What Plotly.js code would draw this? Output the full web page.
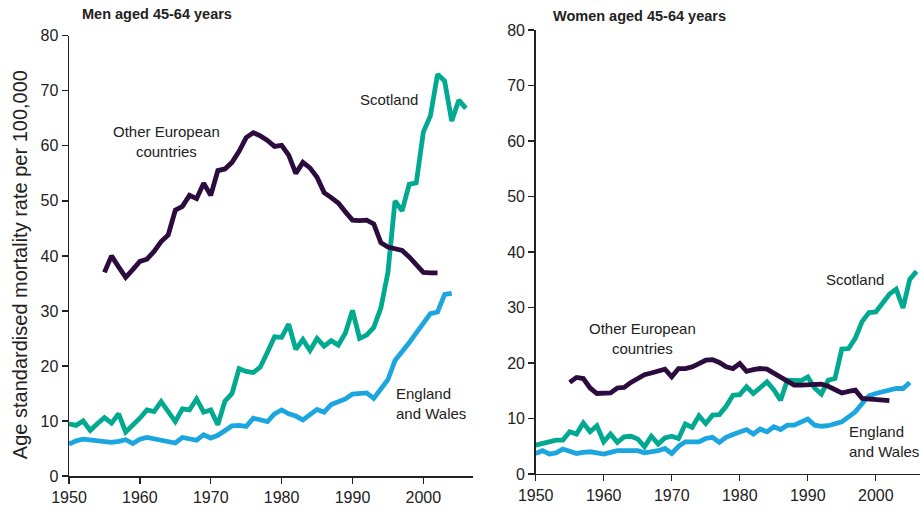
<!DOCTYPE html>
<html><head><meta charset="utf-8">
<script src="https://cdn.plot.ly/plotly-3.0.1.min.js"></script>
<style>html,body{margin:0;padding:0;background:#fff}#chart{width:920px;height:514px}</style>
</head><body><div id="chart"></div>
<script>
// ---- Men aged 45-64 ----
const menEWYears = [1950,1951,1952,1953,1954,1955,1956,1957,1958,1959,1960,1961,1962,1963,1964,1965,1966,1967,1968,1969,1970,1971,1972,1973,1974,1975,1976,1977,1978,1979,1980,1981,1982,1983,1984,1985,1986,1987,1988,1989,1990,1991,1992,1993,1994,1995,1996,1997,1998,1999,2000,2001,2002,2003,2004];
const menEW = [5.8,6.4,6.7,6.5,6.3,6.1,6.1,6.3,6.6,5.9,6.7,7.0,6.7,6.5,6.2,6.0,7.0,6.8,6.5,7.5,6.9,7.4,8.2,9.1,9.2,9.0,10.5,10.2,9.9,11.3,12.0,11.3,10.9,10.2,11.2,12.1,11.6,13.0,13.5,14.0,14.9,15.0,15.1,14.1,15.7,17.5,21.0,22.5,24.2,26.0,27.6,29.5,29.8,33.0,33.2];
const menScotYears = [1950,1951,1952,1953,1954,1955,1956,1957,1958,1959,1960,1961,1962,1963,1964,1965,1966,1967,1968,1969,1970,1971,1972,1973,1974,1975,1976,1977,1978,1979,1980,1981,1982,1983,1984,1985,1986,1987,1988,1989,1990,1991,1992,1993,1994,1995,1996,1997,1998,1999,2000,2001,2002,2003,2004,2005,2006];
const menScot = [9.5,9.2,10.0,8.3,9.5,10.6,9.6,11.3,8.0,9.2,10.5,12.0,11.7,13.5,11.5,9.9,12.2,12.0,14.0,11.6,12.0,9.3,13.6,15.0,19.5,19.0,18.8,19.8,22.5,25.3,25.2,27.6,23.0,24.8,22.8,25.0,23.6,24.6,23.8,26.0,30.1,25.0,25.6,27.0,30.5,37.0,50.0,48.2,53.0,53.3,62.5,65.5,73.0,71.8,64.5,68.3,66.8];
const menEurYears = [1955,1956,1957,1958,1959,1960,1961,1962,1963,1964,1965,1966,1967,1968,1969,1970,1971,1972,1973,1974,1975,1976,1977,1978,1979,1980,1981,1982,1983,1984,1985,1986,1987,1988,1989,1990,1991,1992,1993,1994,1995,1996,1997,1998,1999,2000,2001,2002];
const menEur = [37.0,40.0,38.0,36.1,37.5,39.0,39.4,40.8,42.6,43.8,48.3,49.0,51.0,50.4,53.2,51.0,55.5,55.8,57.0,59.0,61.5,62.4,61.8,61.0,59.9,60.1,58.3,55.0,57.0,56.0,54.3,51.5,50.6,49.6,48.0,46.5,46.4,46.5,45.8,42.4,41.6,41.4,41.0,39.8,38.3,37.0,36.9,36.9];

// ---- Women aged 45-64 ----
const womEWYears = [1950,1951,1952,1953,1954,1955,1956,1957,1958,1959,1960,1961,1962,1963,1964,1965,1966,1967,1968,1969,1970,1971,1972,1973,1974,1975,1976,1977,1978,1979,1980,1981,1982,1983,1984,1985,1986,1987,1988,1989,1990,1991,1992,1993,1994,1995,1996,1997,1998,1999,2000,2001,2002,2003,2004,2005];
const womEW = [3.7,4.2,3.6,3.8,4.5,4.0,3.7,3.9,4.0,3.8,3.6,3.9,4.2,4.2,4.2,4.2,3.8,3.9,4.2,4.6,3.7,5.0,5.8,5.8,5.8,6.4,6.6,5.7,6.6,7.1,7.6,8.0,7.2,8.1,7.6,8.5,8.0,8.8,8.8,9.3,9.9,8.8,8.6,8.7,9.0,9.4,10.3,11.2,12.7,14.1,14.5,14.8,15.3,15.4,15.4,16.5];
const womScotYears = [1950,1951,1952,1953,1954,1955,1956,1957,1958,1959,1960,1961,1962,1963,1964,1965,1966,1967,1968,1969,1970,1971,1972,1973,1974,1975,1976,1977,1978,1979,1980,1981,1982,1983,1984,1985,1986,1987,1988,1989,1990,1991,1992,1993,1994,1995,1996,1997,1998,1999,2000,2001,2002,2003,2004,2005,2006];
const womScot = [5.2,5.5,5.8,6.1,6.1,7.6,7.2,9.2,7.6,8.7,5.8,7.2,5.7,6.7,6.8,6.3,4.9,6.8,5.4,6.5,6.8,6.4,9.0,8.4,10.5,9.1,10.6,10.7,12.2,14.2,14.3,15.7,14.5,15.6,16.6,15.2,13.3,16.9,16.9,16.8,17.5,15.5,14.4,16.9,17.2,22.5,22.6,24.5,27.5,29.1,29.2,30.8,32.4,33.3,29.9,35.1,36.5];
const womEurYears = [1955,1956,1957,1958,1959,1960,1961,1962,1963,1964,1965,1966,1967,1968,1969,1970,1971,1972,1973,1974,1975,1976,1977,1978,1979,1980,1981,1982,1983,1984,1985,1986,1987,1988,1989,1990,1991,1992,1993,1994,1995,1996,1997,1998,1999,2000,2001,2002];
const womEur = [16.5,17.4,17.2,15.5,14.5,14.5,14.6,15.5,15.6,16.5,17.1,17.9,18.2,18.5,18.9,17.5,19.0,19.0,19.3,19.9,20.5,20.6,20.1,19.3,19.0,19.9,18.5,18.8,19.0,18.9,18.2,17.5,16.8,16.0,16.0,16.0,16.2,16.2,15.8,15.3,14.6,14.9,15.1,13.6,13.5,13.4,13.3,13.2];

const xTicks = [1950,1960,1970,1980,1990,2000];
const yTicks = [0,10,20,30,40,50,60,70,80];

const cPurple = '#2c0b3f', cTeal = '#00a98f', cBlue = '#1ba6e0';
const FONT = '"Liberation Sans Narrow", "Arial Narrow", "Liberation Sans", Arial, sans-serif';
const LW = 4.8;

function tr(x, y, color, xa, ya) {
  return {x: x, y: y, type: 'scatter', mode: 'lines', xaxis: xa, yaxis: ya,
    line: {color: color, width: LW, shape: 'linear'}, hoverinfo: 'skip', showlegend: false};
}
const data = [
  tr(menEWYears, menEW, cBlue, 'x', 'y'),
  tr(menScotYears, menScot, cTeal, 'x', 'y'),
  tr(menEurYears, menEur, cPurple, 'x', 'y'),
  tr(womEWYears, womEW, cBlue, 'x2', 'y2'),
  tr(womScotYears, womScot, cTeal, 'x2', 'y2'),
  tr(womEurYears, womEur, cPurple, 'x2', 'y2')
];

function xax(domain, range, anchor) {
  return {domain: domain, range: range, anchor: anchor, tickvals: xTicks, ticks: 'outside', ticklen: 6,
    tickwidth: 1.3, tickcolor: '#222', showline: true, linecolor: '#222', linewidth: 1.5,
    showgrid: false, zeroline: false, tickfont: {family: FONT, size: 16, color: '#222'}, fixedrange: true};
}
function yax(domain, anchor) {
  return {domain: domain, range: [0, 80], anchor: anchor, tickvals: yTicks, ticks: 'outside', ticklen: 6,
    tickwidth: 1.3, tickcolor: '#222', showline: true, linecolor: '#222', linewidth: 1.5,
    showgrid: false, zeroline: false, tickfont: {family: FONT, size: 16, color: '#222'}, fixedrange: true};
}
const lblFont = {family: FONT, size: 15, color: '#222'};
function lab(text, x, y, xref, yref, xanchor) {
  return {text: text, x: x, y: y, xref: xref, yref: yref, xanchor: xanchor, yanchor: 'middle',
    showarrow: false, font: lblFont, align: xanchor === 'left' ? 'left' : 'center'};
}
const layout = {
  width: 920, height: 514,
  margin: {l: 69, r: 0, t: 30, b: 38},
  paper_bgcolor: '#fff', plot_bgcolor: '#fff',
  xaxis: xax([0, 0.4747], [1950, 2007], 'y'),
  yaxis: yax([0, 0.987], 'x'),
  xaxis2: xax([0.5484, 1], [1950, 2006.5], 'y2'),
  yaxis2: yax([0.0045, 1], 'x2'),
  annotations: [
    {text: '<b>Men aged 45-64 years</b>', xref: 'paper', yref: 'paper', x: 0.013, y: 1.036, xanchor: 'left', yanchor: 'middle', showarrow: false, font: {family: FONT, size: 14.5, color: '#222'}},
    {text: '<b>Women aged 45-64 years</b>', xref: 'paper', yref: 'paper', x: 0.566, y: 1.031, xanchor: 'left', yanchor: 'middle', showarrow: false, font: {family: FONT, size: 14.5, color: '#222'}},
    {text: 'Age standardised mortality rate per 100,000', xref: 'paper', yref: 'paper', x: -0.0576, y: 0.475, xanchor: 'center', yanchor: 'middle', textangle: -90, showarrow: false, font: {family: FONT, size: 20, color: '#222'}},
    lab('Other European<br>countries', 1963.8, 60.7, 'x', 'y', 'center'),
    lab('Scotland', 1995.2, 68.5, 'x', 'y', 'center'),
    lab('England<br>and Wales', 1995.8, 13.1, 'x', 'y', 'left'),
    lab('Other European<br>countries', 1965.75, 24.4, 'x2', 'y2', 'center'),
    lab('Scotland', 1996.9, 35.1, 'x2', 'y2', 'center'),
    lab('England<br>and Wales', 1995.8, 5.8, 'x2', 'y2', 'left')
  ]
};
Plotly.newPlot('chart', data, layout, {displayModeBar: false, staticPlot: true});
</script></body></html>
